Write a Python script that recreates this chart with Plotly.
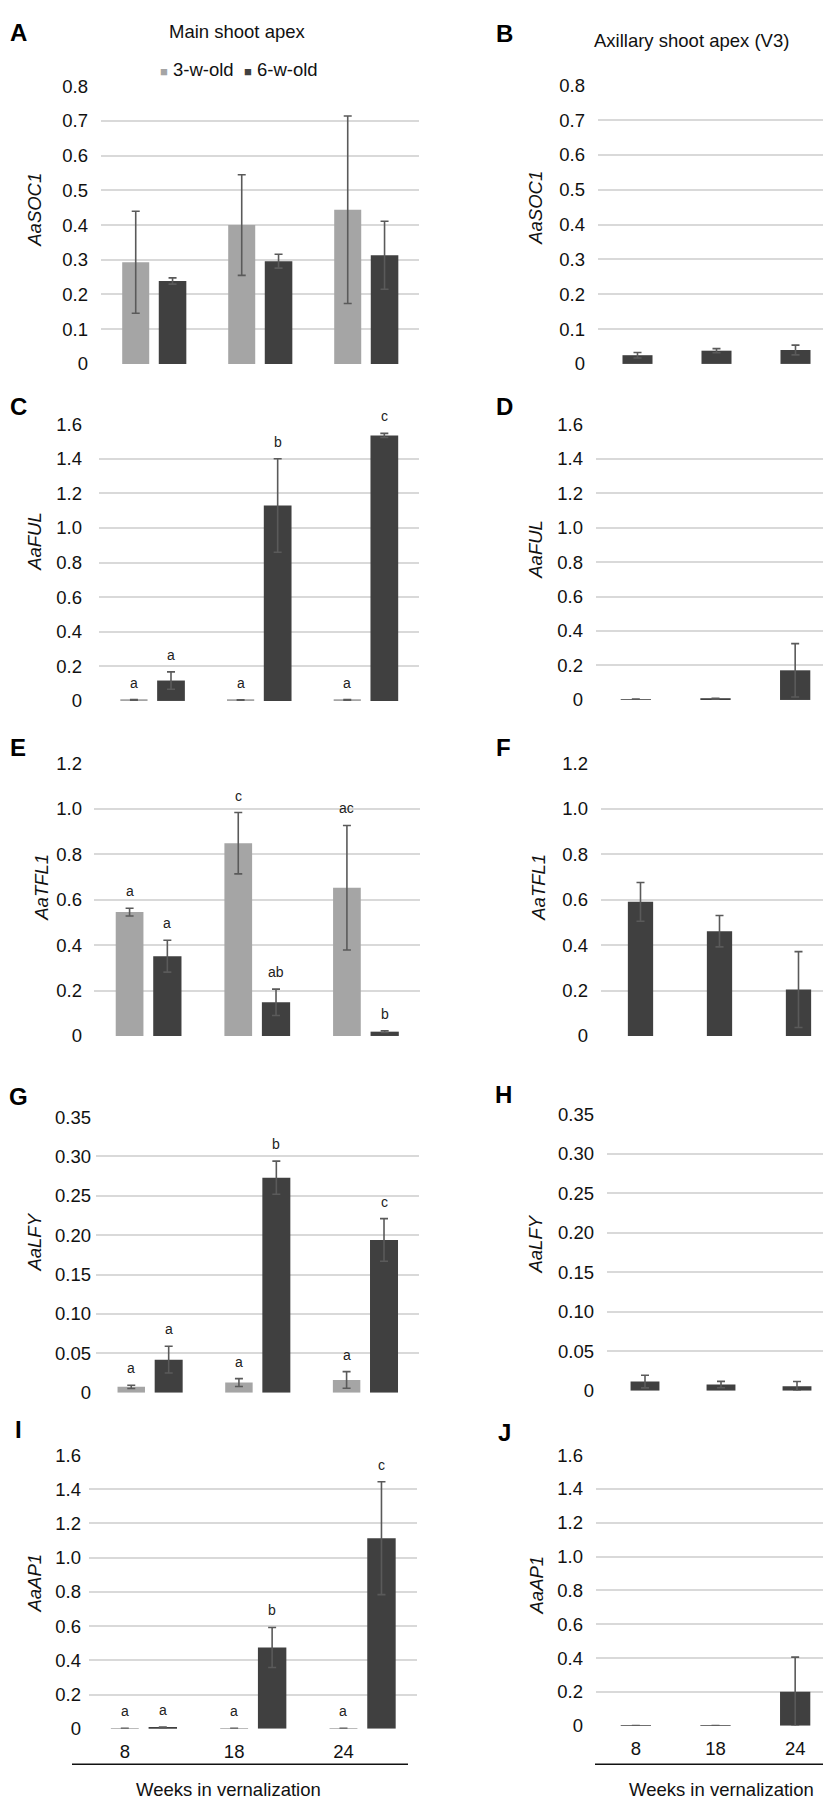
import plotly.graph_objects as go

W, H = 831, 1797

# ---------------- data ----------------
weeks = ["8", "18", "24"]
genes = ["AaSOC1", "AaFUL", "AaTFL1", "AaLFY", "AaAP1"]
series_names = ["3-w-old", "6-w-old"]

# Main shoot apex, 3-week-old plants
soc1_main_3w = [0.293, 0.400, 0.444]
soc1_main_3w_err = [0.147, 0.145, 0.270]
ful_main_3w = [0.006, 0.005, 0.006]
ful_main_3w_err = [0.002, 0.002, 0.002]
tfl1_main_3w = [0.545, 0.848, 0.652]
tfl1_main_3w_err = [0.017, 0.135, 0.274]
lfy_main_3w = [0.0075, 0.013, 0.0163]
lfy_main_3w_err = [0.002, 0.005, 0.0105]
ap1_main_3w = [0.002, 0.002, 0.002]
ap1_main_3w_err = [0.001, 0.001, 0.001]

# Main shoot apex, 6-week-old plants
soc1_main_6w = [0.239, 0.296, 0.313]
soc1_main_6w_err = [0.009, 0.020, 0.098]
ful_main_6w = [0.118, 1.130, 1.535]
ful_main_6w_err = [0.050, 0.270, 0.012]
tfl1_main_6w = [0.351, 0.148, 0.019]
tfl1_main_6w_err = [0.070, 0.058, 0.004]
lfy_main_6w = [0.042, 0.273, 0.194]
lfy_main_6w_err = [0.017, 0.021, 0.027]
ap1_main_6w = [0.008, 0.475, 1.114]
ap1_main_6w_err = [0.002, 0.117, 0.330]

# Axillary shoot apex (V3), 6-week-old plants
soc1_ax = [0.025, 0.038, 0.040]
soc1_ax_err = [0.008, 0.006, 0.014]
ful_ax = [0.004, 0.007, 0.172]
ful_ax_err = [0.001, 0.003, 0.155]
tfl1_ax = [0.590, 0.461, 0.204]
tfl1_ax_err = [0.085, 0.069, 0.167]
lfy_ax = [0.0117, 0.0079, 0.0058]
lfy_ax_err = [0.008, 0.004, 0.006]
ap1_ax = [0.001, 0.001, 0.202]
ap1_ax_err = [0.0, 0.0, 0.204]

# significance letters (main shoot apex)
soc1_let_3w = ["", "", ""]
soc1_let_6w = ["", "", ""]
ful_let_3w = ["a", "a", "a"]
ful_let_6w = ["a", "b", "c"]
tfl1_let_3w = ["a", "c", "ac"]
tfl1_let_6w = ["a", "ab", "b"]
lfy_let_3w = ["a", "a", "a"]
lfy_let_6w = ["a", "b", "c"]
ap1_let_3w = ["a", "a", "a"]
ap1_let_6w = ["a", "b", "c"]

# y-axis ticks
soc1_ticks = [0, 0.1, 0.2, 0.3, 0.4, 0.5, 0.6, 0.7, 0.8]
soc1_ticktext = ["0", "0.1", "0.2", "0.3", "0.4", "0.5", "0.6", "0.7", "0.8"]
ful_ticks = [0, 0.2, 0.4, 0.6, 0.8, 1.0, 1.2, 1.4, 1.6]
ful_ticktext = ["0", "0.2", "0.4", "0.6", "0.8", "1.0", "1.2", "1.4", "1.6"]
tfl1_ticks = [0, 0.2, 0.4, 0.6, 0.8, 1.0, 1.2]
tfl1_ticktext = ["0", "0.2", "0.4", "0.6", "0.8", "1.0", "1.2"]
lfy_ticks = [0, 0.05, 0.10, 0.15, 0.20, 0.25, 0.30, 0.35]
lfy_ticktext = ["0", "0.05", "0.10", "0.15", "0.20", "0.25", "0.30", "0.35"]
ap1_ticks = [0, 0.2, 0.4, 0.6, 0.8, 1.0, 1.2, 1.4, 1.6]
ap1_ticktext = ["0", "0.2", "0.4", "0.6", "0.8", "1.0", "1.2", "1.4", "1.6"]

# ---------------- styling / layout ----------------
LIGHT = "#a5a5a5"
DARK = "#404040"
ERRC = "#5a5a5a"
GRID = "#d9d9d9"
FONT = "Arial, 'Liberation Sans', Helvetica, sans-serif"
FS = 18.5

main_3w = [soc1_main_3w, ful_main_3w, tfl1_main_3w, lfy_main_3w, ap1_main_3w]
main_3w_err = [soc1_main_3w_err, ful_main_3w_err, tfl1_main_3w_err, lfy_main_3w_err, ap1_main_3w_err]
main_6w = [soc1_main_6w, ful_main_6w, tfl1_main_6w, lfy_main_6w, ap1_main_6w]
main_6w_err = [soc1_main_6w_err, ful_main_6w_err, tfl1_main_6w_err, lfy_main_6w_err, ap1_main_6w_err]
ax_vals = [soc1_ax, ful_ax, tfl1_ax, lfy_ax, ap1_ax]
ax_err = [soc1_ax_err, ful_ax_err, tfl1_ax_err, lfy_ax_err, ap1_ax_err]
let_3w = [soc1_let_3w, ful_let_3w, tfl1_let_3w, lfy_let_3w, ap1_let_3w]
let_6w = [soc1_let_6w, ful_let_6w, tfl1_let_6w, lfy_let_6w, ap1_let_6w]
ticks = [soc1_ticks, ful_ticks, tfl1_ticks, lfy_ticks, ap1_ticks]
ticktexts = [soc1_ticktext, ful_ticktext, tfl1_ticktext, lfy_ticktext, ap1_ticktext]

# pixel boxes of plot areas: (x0, x1, ytop, ybottom)
left_boxes = [(93, 411, 68, 349), (91, 411, 410, 690), (86, 412, 753, 1029),
              (88, 411, 1111, 1390), (81, 409, 1453, 1730)]
right_boxes = [(590, 827, 67, 349), (588, 827, 410, 689), (593, 830, 753, 1029),
               (599, 827, 1108, 1388), (588, 827, 1453, 1727)]
left_standoff = [12, 16, 11, 4, 7]
right_standoff = [12, 12, 12, 12, 12]
left_ytitle = [(27, 193), (27, 528), (34, 879), (27, 1237), (27, 1582)]
right_ytitle = [(528, 191), (528, 537), (531, 879), (528, 1240), (528, 1585)]
left_letters = ["A", "C", "E", "G", "I"]
right_letters = ["B", "D", "F", "H", "J"]
left_letter_pos = [(10, 14), (10, 392), (10, 737), (10, 1090), (10, 1427)]
right_letter_pos = [(496, 15), (496, 392), (495, 737), (495, 1088), (496, 1430)]
right_width = [0.38, 0.38, 0.32, 0.38, 0.38]

L_OFF, L_W = -0.30, 0.255
D_OFF, D_W = 0.045, 0.26

xs = list(range(len(weeks)))


def px_x(p):
    return p / W


def px_y(p):
    return 1 - p / H


fig = go.Figure()
annotations = []
layout = {}


def err(arr):
    return dict(type="data", array=arr, visible=True, color=ERRC, thickness=1.6, width=4)


for g in range(len(genes)):
    for side in range(2):
        idx = g * 2 + side + 1
        xa = "x" if idx == 1 else f"x{idx}"
        ya = "y" if idx == 1 else f"y{idx}"
        xkey = "xaxis" if idx == 1 else f"xaxis{idx}"
        ykey = "yaxis" if idx == 1 else f"yaxis{idx}"
        box = left_boxes[g] if side == 0 else right_boxes[g]
        ymax = ticks[g][-1]
        last_row = g == len(genes) - 1

        if side == 0:
            fig.add_trace(go.Bar(x=xs, y=main_3w[g], width=L_W, offset=L_OFF,
                                 marker=dict(color=LIGHT, line=dict(width=0)),
                                 error_y=err(main_3w_err[g]), name=series_names[0],
                                 showlegend=False, xaxis=xa, yaxis=ya))
            fig.add_trace(go.Bar(x=xs, y=main_6w[g], width=D_W, offset=D_OFF,
                                 marker=dict(color=DARK, line=dict(width=0)),
                                 error_y=err(main_6w_err[g]), name=series_names[1],
                                 showlegend=False, xaxis=xa, yaxis=ya))
            for i in xs:
                for lets, vals, errs, off, wd in ((let_3w[g], main_3w[g], main_3w_err[g], L_OFF, L_W),
                                                  (let_6w[g], main_6w[g], main_6w_err[g], D_OFF, D_W)):
                    if lets[i]:
                        annotations.append(dict(
                            x=i + off + wd / 2, y=vals[i] + errs[i], xref=xa, yref=ya,
                            text=lets[i], showarrow=False, yanchor="bottom", yshift=7,
                            font=dict(family=FONT, size=14, color="#222")))
            tickvals_x = [i + L_OFF + L_W / 2 for i in xs]
        else:
            rw = right_width[g]
            fig.add_trace(go.Bar(x=xs, y=ax_vals[g], width=rw, offset=-rw / 2,
                                 marker=dict(color=DARK, line=dict(width=0)),
                                 error_y=err(ax_err[g]), name=series_names[1],
                                 showlegend=False, xaxis=xa, yaxis=ya))
            tickvals_x = xs

        layout[xkey] = dict(domain=[px_x(box[0]), px_x(box[1])], range=[-0.5, 2.5],
                            anchor=ya, showgrid=False, zeroline=False, showline=False,
                            tickvals=tickvals_x, ticktext=weeks, ticks="",
                            showticklabels=last_row, ticklabelstandoff=10,
                            tickfont=dict(family=FONT, size=FS, color="#111"))
        layout[ykey] = dict(domain=[px_y(box[3]), px_y(box[2])], range=[0, ymax],
                            anchor=xa, tickvals=ticks[g], ticktext=ticktexts[g],
                            showgrid=True, gridcolor=GRID, gridwidth=1.5,
                            zeroline=False, showline=False, ticks="",
                            ticklabelstandoff=(left_standoff if side == 0 else right_standoff)[g],
                            tickfont=dict(family=FONT, size=FS, color="#111"))

        # y-axis title (italic gene name)
        tx, ty = (left_ytitle if side == 0 else right_ytitle)[g]
        annotations.append(dict(x=px_x(tx), y=px_y(ty), xref="paper", yref="paper",
                                text=f"<i>{genes[g]}</i>", textangle=-90, showarrow=False,
                                xanchor="center", yanchor="middle",
                                font=dict(family=FONT, size=FS, color="#111")))
        # panel letter
        lx, ly = (left_letter_pos if side == 0 else right_letter_pos)[g]
        lt = (left_letters if side == 0 else right_letters)[g]
        annotations.append(dict(x=px_x(lx), y=px_y(ly), xref="paper", yref="paper",
                                text=f"<b>{lt}</b>", showarrow=False,
                                xanchor="center", yanchor="middle",
                                font=dict(family=FONT, size=24, color="#000")))

# column titles
annotations.append(dict(x=px_x(230), y=px_y(13), xref="paper", yref="paper",
                        text="Main shoot apex", showarrow=False, xanchor="center", yanchor="middle",
                        font=dict(family=FONT, size=FS, color="#111")))
annotations.append(dict(x=px_x(683), y=px_y(22), xref="paper", yref="paper",
                        text="Axillary shoot apex (V3)", showarrow=False, xanchor="center",
                        yanchor="middle", font=dict(family=FONT, size=FS, color="#111")))

# legend (panel A)
for nm, col, px0 in ((series_names[0], LIGHT, 150), (series_names[1], DARK, 234)):
    annotations.append(dict(x=px_x(px0), y=px_y(51), xref="paper", yref="paper",
                            text=f"<span style='color:{col}; font-size:13px'>■</span> {nm}",
                            showarrow=False, xanchor="left", yanchor="middle",
                            font=dict(family=FONT, size=FS, color="#111")))

# x-axis titles
for cx in (220, 713):
    annotations.append(dict(x=px_x(cx), y=px_y(1779), xref="paper", yref="paper",
                            text="Weeks in vernalization", showarrow=False,
                            xanchor="center", yanchor="top",
                            font=dict(family=FONT, size=FS, color="#111")))

shapes = [
    dict(type="line", xref="paper", yref="paper", x0=px_x(64), x1=px_x(400),
         y0=px_y(1766), y1=px_y(1766), line=dict(color="#111", width=1.5)),
    dict(type="line", xref="paper", yref="paper", x0=px_x(587), x1=px_x(831),
         y0=px_y(1766), y1=px_y(1766), line=dict(color="#111", width=1.5)),
]

fig.update_layout(
    width=W, height=H, margin=dict(l=0, r=0, t=0, b=0),
    paper_bgcolor="white", plot_bgcolor="white",
    barmode="overlay", showlegend=False,
    annotations=annotations, shapes=shapes,
    font=dict(family=FONT, size=FS, color="#111"),
    **layout,
)

fig.write_html("out.html")
